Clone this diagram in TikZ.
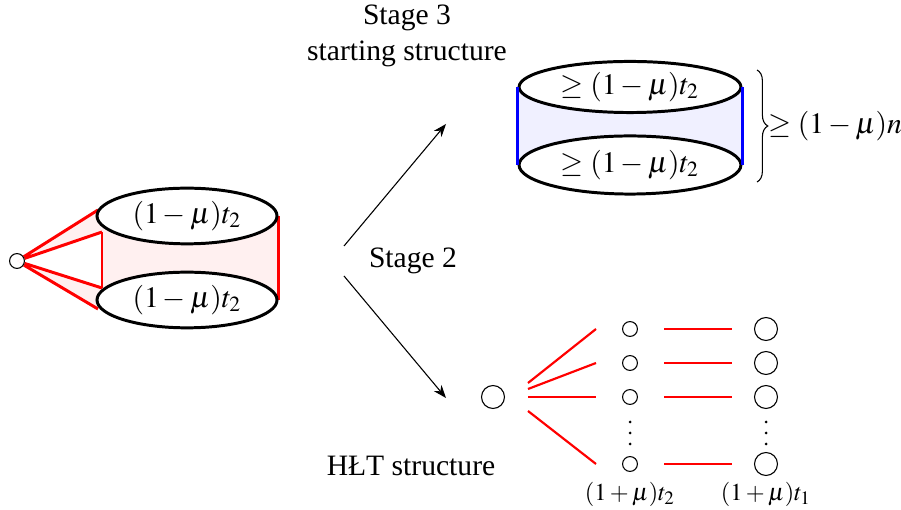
\documentclass[tikz,border=0pt,11pt]{standalone}
\usepackage{amsmath,amssymb}
\usepackage{mathptmx}
\usepackage{fontspec}
\setmainfont{Liberation Serif}
\usepackage{tikz}
\usetikzlibrary{arrows.meta,positioning,shapes.geometric,decorations.pathreplacing,backgrounds}

\begin{document}
\begin{tikzpicture}[>=Stealth,x=0.37pt,y=-0.37pt,
  vtx/.style={circle,draw,thin,inner sep=0pt,minimum size=5.5pt},
  bigvtx/.style={circle,draw,thin,inner sep=0pt,minimum size=8.5pt},
  blob/.style={ellipse,draw,line width=1.1pt,fill=white,inner sep=0pt},
  redge/.style={red,line width=1.1pt},
  hedge/.style={red,line width=.8pt},
  smalllab/.style={font=\footnotesize}]
\useasboundingbox (0,0) rectangle (901,510);
% stage 1: the two halves joined to one vertex
\node[vtx] (src) at (17,261) {};
\node[blob,minimum width=66.6pt,minimum height=20.6pt] (ltop) at (187,216) {$(1-\mu)t_2$};
\node[blob,minimum width=66.6pt,minimum height=20.6pt] (lbot) at (187,300) {$(1-\mu)t_2$};
\coordinate (a1) at (98,210);
\coordinate (a2) at (102,232);
\coordinate (a3) at (102,288);
\coordinate (a4) at (98,309);
\begin{scope}[on background layer]
\fill[red!6] (src.center)--(a1)--(a2)--cycle;
\fill[red!6] (src.center)--(a3)--(a4)--cycle;
\fill[red!6] (a2|-ltop.center) rectangle (lbot.east);
\draw[redge] (src)--(a1) (src)--(a2) (src)--(a3) (src)--(a4);
\draw[redge] (a2)--(a3);
\draw[redge] (ltop.east)--(lbot.east);
\end{scope}
% stage 3
\node[blob,minimum width=82.1pt,minimum height=18.9pt] (rtop) at (630,87) {$\geq(1-\mu)t_2$};
\node[blob,minimum width=82.1pt,minimum height=21.5pt] (rbot) at (630,165) {$\geq(1-\mu)t_2$};
\begin{scope}[on background layer]
\fill[blue!6] (rtop.west) rectangle (rbot.east);
\end{scope}
\draw[blue,line width=1.1pt] (rtop.west)--(rbot.west) (rtop.east)--(rbot.east);
\coordinate (b1) at (757,70);
\coordinate (b2) at (757,182);
\draw[decorate,decoration={brace,amplitude=4pt}] (b1)--(b2)
  node[midway,right=4pt,inner sep=0pt] (sz) {$\geq(1-\mu)n$};
\node[align=center] (s3) at (407,36) {Stage 3\\starting structure};
\node (s2) at (413,261) {Stage 2};
\node (hlt) at (411,466) {HŁT structure};
% arrows
\coordinate (o1) at (344,246);
\coordinate (o2) at (344,276);
\coordinate (e1) at (446,124);
\coordinate (e2) at (446,398);
\draw[->,thin] (o1)--(e1);
\draw[->,thin] (o2)--(e2);
% HLT structure
\node[bigvtx] (hub) at (493,397) {};
\foreach \i/\y in {1/329,2/363,3/397,5/464}{
  \node[vtx] (m\i) at (630,\y) {};
  \node[bigvtx] (r\i) at (766,\y) {};
  \draw[hedge] (664,\y)--(732,\y);
}
\foreach \d in {422,433,444}{
  \fill (630,\d) circle[radius=1.5];
  \fill (766,\d) circle[radius=1.5];
}
\draw[hedge] (528,383)--(596,329);
\draw[hedge] (528,389)--(596,363);
\draw[hedge] (528,397)--(596,397);
\draw[hedge] (528,411)--(596,464);
\node[smalllab] (ml) at (630,494) {$(1+\mu)t_2$};
\node[smalllab] (rl) at (766,494) {$(1+\mu)t_1$};
\end{tikzpicture}
\end{document}
